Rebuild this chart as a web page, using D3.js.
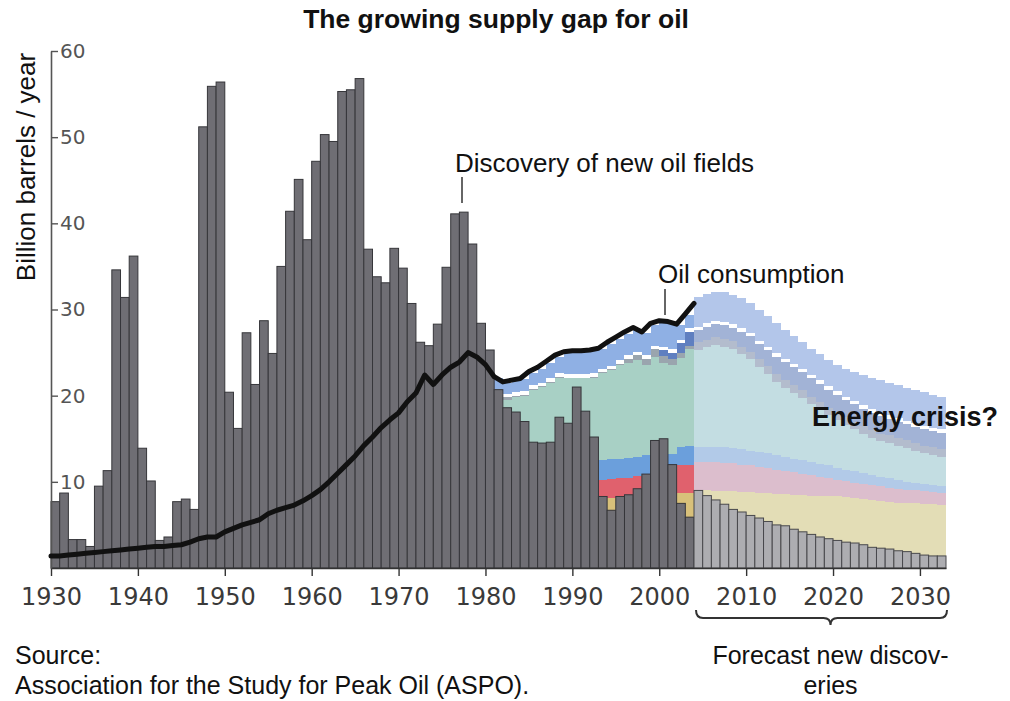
<!DOCTYPE html>
<html>
<head>
<meta charset="utf-8">
<script src="https://cdn.jsdelivr.net/npm/d3@7"></script>
<style>
  body { margin: 0; background: #fff; }
  svg { display: block; }
  text { font-family: "Liberation Sans", Arial, sans-serif; fill: #111; }
  .tick text { font-family: "DejaVu Sans", sans-serif; }
</style>
</head>
<body>
<svg id="chart" width="1010" height="701"></svg>
<script>
// discoveries of new oil fields, 1930-2003 (history) and 2004-2032 (forecast)
const discoveryStart = 1930;
const discoveries = [
  7.7, 8.7, 3.3, 3.3, 2.5, 9.5, 11.3, 34.6, 31.4, 36.2,
  13.9, 10.1, 3.2, 3.6, 7.7, 8.0, 6.8, 51.2, 55.9, 56.4,
  20.4, 16.2, 27.3, 21.3, 28.7, 24.9, 35.0, 41.4, 45.1, 38.1,
  47.2, 50.3, 49.5, 55.3, 55.5, 56.8, 37.0, 33.8, 33.1, 37.1,
  34.8, 30.7, 26.2, 25.8, 28.3, 34.9, 41.1, 41.3, 37.6, 28.4,
  25.3, 20.7, 18.6, 18.1, 17.0, 14.6, 14.5, 14.6, 17.5, 16.8,
  21.0, 18.2, 15.2, 8.3, 6.7, 8.3, 8.5, 9.2, 10.9, 14.8,
  15.0, 12.0, 7.5, 5.9
];
const forecastStart = 2004;
const forecastDiscoveries = [
  9.0, 8.4, 7.9, 7.4, 6.8, 6.5, 6.1, 5.8, 5.4, 5.0,
  4.9, 4.5, 4.2, 3.9, 3.6, 3.4, 3.2, 3.0, 2.9, 2.7,
  2.4, 2.3, 2.2, 2.0, 1.9, 1.7, 1.5, 1.4, 1.4
];

// oil consumption 1930-2004
const consumption = [
  1.4, 1.4, 1.5, 1.6, 1.7, 1.8, 1.9, 2.0, 2.1, 2.2,
  2.3, 2.4, 2.5, 2.5, 2.6, 2.7, 3.0, 3.4, 3.6, 3.6,
  4.2, 4.6, 5.0, 5.3, 5.6, 6.3, 6.7, 7.0, 7.3, 7.8,
  8.4, 9.1, 10.0, 11.0, 12.0, 13.0, 14.2, 15.2, 16.3, 17.2,
  18.0, 19.3, 20.3, 22.4, 21.3, 22.4, 23.3, 23.9, 25.0, 24.5,
  23.6, 22.2, 21.6, 21.8, 22.0, 22.8, 23.3, 24.0, 24.7, 25.1,
  25.2, 25.2, 25.3, 25.5, 26.2, 26.8, 27.4, 27.9, 27.4, 28.4,
  28.7, 28.6, 28.3, 29.5, 30.7
];

// production by source, 1981-2032: top of each stacked band (cumulative)
const bandStart = 1981;
const tanTop = [
  0, 0, 0, 0, 0, 0, 0, 0, 0, 0, 0, 0,
  8.0, 8.1, 8.2, 8.3, 8.4, 8.5, 8.6, 8.6, 8.6, 8.7, 8.7,
  9.0, 9.0, 8.9, 8.9, 8.9, 8.8, 8.8, 8.7, 8.7, 8.6, 8.6, 8.5, 8.5, 8.4, 8.4,
  8.3, 8.3, 8.2, 8.1, 8.0, 7.9, 7.8, 7.7, 7.6, 7.6, 7.5, 7.4, 7.4, 7.3
];
const redTop = [
  0, 0, 0, 0, 0, 0, 0, 0, 0, 0, 0, 0,
  10.2, 10.3, 10.4, 10.5, 10.7, 10.9, 11.0, 11.2, 11.4, 11.9, 12.0,
  12.3, 12.3, 12.3, 12.2, 12.2, 12.0, 11.9, 11.7, 11.6, 11.4, 11.3, 11.1, 10.9, 10.8,
  10.6, 10.4, 10.2, 10.1, 9.9, 9.8, 9.6, 9.5, 9.3, 9.2, 9.1, 9.0, 8.9, 8.8, 8.7
];
const blueTop = [
  0, 0, 0, 0, 0, 0, 0, 0, 0, 0, 0, 0,
  12.5, 12.6, 12.7, 12.8, 12.9, 13.1, 13.0, 13.0, 13.2, 14.1, 14.2,
  14.1, 14.1, 14.1, 14.0, 13.9, 13.8, 13.6, 13.5, 13.3, 13.1, 12.9, 12.7, 12.5, 12.3,
  12.1, 11.9, 11.6, 11.4, 11.2, 11.0, 10.8, 10.6, 10.4, 10.2, 10.0, 9.9, 9.7, 9.6, 9.5
];
const tealTop = [
  19.8, 19.5, 19.9, 20.0, 20.7, 21.0, 21.5, 22.1, 22.0, 22.0, 22.0, 22.1,
  22.6, 23.0, 23.6, 23.8, 24.1, 23.6, 24.5, 23.8, 23.6, 24.4, 25.4,
  25.3, 25.6, 25.9, 25.7, 25.4, 24.8, 24.2, 23.3, 22.5, 21.6, 20.9, 20.3, 19.7, 19.0,
  18.4, 17.7, 17.2, 16.6, 16.1, 15.6, 15.1, 14.7, 14.5, 14.2, 13.9, 13.6, 13.3, 13.1, 12.9
];
const grayTop = [
  20.1, 19.8, 20.0, 20.1, 20.8, 21.1, 21.6, 22.2, 22.1, 22.1, 22.1, 22.2,
  22.7, 23.1, 23.7, 24.3, 24.7, 24.3, 25.4, 24.6, 24.3, 25.0, 25.8,
  26.2, 26.5, 26.8, 26.6, 26.3, 25.7, 25.1, 24.2, 23.4, 22.5, 21.8, 21.2, 20.6, 19.9,
  19.3, 18.6, 18.1, 17.5, 17.0, 16.5, 16.0, 15.6, 15.4, 15.1, 14.8, 14.5, 14.2, 14.0, 13.8
];
const slateTop = [
  20.1, 19.8, 20.0, 20.1, 20.8, 21.1, 21.6, 22.2, 22.1, 22.1, 22.1, 22.2,
  22.7, 23.1, 23.7, 24.3, 24.7, 24.3, 25.4, 25.3, 25.0, 26.1, 27.4,
  27.6, 28.0, 28.3, 28.2, 27.9, 27.4, 26.9, 26.0, 25.3, 24.5, 23.9, 23.3, 22.7, 22.0,
  21.4, 20.7, 20.1, 19.5, 19.0, 18.5, 18.0, 17.6, 17.3, 17.0, 16.7, 16.4, 16.1, 15.9, 15.7
];
const whiteTop = [
  20.5, 20.2, 20.4, 20.5, 21.2, 21.5, 22.0, 22.6, 22.5, 22.5, 22.5, 22.6,
  23.1, 23.5, 24.1, 24.7, 25.1, 24.7, 25.8, 25.7, 25.4, 26.5, 27.8,
  28.0, 28.4, 28.7, 28.6, 28.3, 27.8, 27.3, 26.4, 25.7, 24.9, 24.3, 23.7, 23.1, 22.4,
  21.8, 21.1, 20.5, 19.9, 19.4, 18.9, 18.4, 18.0, 17.7, 17.4, 17.1, 16.8, 16.5, 16.3, 16.1
];
const supplyTop = [
  22.0, 21.5, 21.7, 21.9, 22.6, 23.1, 23.8, 24.5, 25.0, 25.1, 25.1, 25.2,
  25.4, 26.0, 26.6, 27.2, 27.7, 27.3, 28.2, 28.6, 28.4, 28.2, 29.4,
  31.4, 31.8, 32.0, 32.0, 31.7, 31.3, 30.7, 30.0, 29.3, 28.4, 27.6, 26.9, 26.2, 25.4,
  24.8, 24.1, 23.6, 23.1, 22.7, 22.4, 22.1, 21.8, 21.5, 21.2, 20.9, 20.6, 20.4, 20.1, 19.9
];

const yTicks = [10, 20, 30, 40, 50, 60];
const xTicks = [1930, 1940, 1950, 1960, 1970, 1980, 1990, 2000, 2010, 2020, 2030];

const svg = d3.select("#chart");

const x = d3.scaleLinear().domain([1930, 2033]).range([51, 946]);
const y = d3.scaleLinear().domain([0, 60]).range([568, 51]);

// colours: [history, forecast] for each band, bottom to top
const bandColors = [
  ["#d8c07a", "#e3ddb6"],
  ["#e0616d", "#dcbecd"],
  ["#6b9fdc", "#b2cae8"],
  ["#a8d0c5", "#c3dde2"],
  ["#9aa5ae", "#b3bccd"],
  ["#5f7fc0", "#a2b3d6"],
  ["#ffffff", "#ffffff"],
  ["#8fb0e4", "#b3c6ea"]
];
const bounds = [tanTop.map(() => 0), tanTop, redTop, blueTop, tealTop, grayTop, slateTop, whiteTop, supplyTop];

const area = d3.area()
    .curve(d3.curveStepAfter)
    .x(d => x(d.yr))
    .y0(d => y(d.lo))
    .y1(d => y(d.hi));

const bandsG = svg.append("g").attr("shape-rendering", "crispEdges");
const segments = [[bandStart, forecastStart, 0], [forecastStart, 2033, 1]];

for (let i = 1; i < bounds.length; i++) {
  segments.forEach(([from, to, c]) => {
    let pts = [];
    for (let yr = from; yr < to; yr++) {
      let k = yr - bandStart;
      pts.push({yr: yr, lo: bounds[i - 1][k], hi: bounds[i][k]});
    }
    let last = pts[pts.length - 1];
    pts.push({yr: to, lo: last.lo, hi: last.hi});
    bandsG.append("path")
        .datum(pts)
        .attr("d", area)
        .attr("fill", bandColors[i - 1][c]);
  });
}

// bars
const barsG = svg.append("g");
const barData = discoveries.map((v, i) => ({yr: discoveryStart + i, v: v, f: false}))
    .concat(forecastDiscoveries.map((v, i) => ({yr: forecastStart + i, v: v, f: true})));

barsG.selectAll("rect")
    .data(barData)
    .enter()
    .append("rect")
    .attr("x", d => x(d.yr))
    .attr("width", d => x(d.yr + 1) - x(d.yr))
    .attr("y", d => y(d.v))
    .attr("height", d => y(0) - y(d.v))
    .attr("fill", d => d.f ? "#adadb1" : "#6f6e74")
    .attr("stroke", d => d.f ? "#48484c" : "#36363a")
    .attr("stroke-width", 1);

// axes
const xAxis = d3.axisBottom(x)
    .tickValues(xTicks)
    .tickFormat(d3.format("d"))
    .tickSize(8)
    .tickSizeOuter(0)
    .tickPadding(12);

const gx = svg.append("g")
    .attr("transform", "translate(0," + y(0) + ")")
    .call(xAxis);
gx.select(".domain").attr("stroke", "#333").attr("stroke-width", 1.6);
gx.selectAll(".tick line").attr("stroke", "#333").attr("stroke-width", 1.4);
gx.selectAll(".tick text")
    .attr("font-size", 24)
    .style("fill", "#3a3a3a");

const yAxis = d3.axisRight(y)
    .tickValues(yTicks)
    .tickSize(7)
    .tickSizeOuter(0)
    .tickPadding(2);

const gy = svg.append("g")
    .attr("transform", "translate(" + x(1930) + ",0)")
    .call(yAxis);
gy.select(".domain").attr("stroke", "#555").attr("stroke-width", 1.6);
gy.selectAll(".tick line").attr("stroke", "#555").attr("stroke-width", 1.4);
gy.selectAll(".tick text")
    .attr("font-size", 20)
    .style("fill", "#555");

// consumption line
const line = d3.line()
    .x((d, i) => x(discoveryStart + i))
    .y(d => y(d));

svg.append("path")
    .datum(consumption)
    .attr("d", line)
    .attr("fill", "none")
    .attr("stroke", "#111")
    .attr("stroke-width", 5)
    .attr("stroke-linejoin", "round")
    .attr("stroke-linecap", "round");

// labels
svg.append("text")
    .attr("x", 496).attr("y", 28)
    .attr("text-anchor", "middle")
    .attr("font-size", 26.5)
    .attr("font-weight", "bold")
    .text("The growing supply gap for oil");

svg.append("text")
    .attr("transform", "translate(35,167) rotate(-90)")
    .attr("text-anchor", "middle")
    .attr("font-size", 26)
    .text("Billion barrels / year");

svg.append("text")
    .attr("x", 455).attr("y", 172)
    .attr("font-size", 26)
    .text("Discovery of new oil fields");
svg.append("line")
    .attr("x1", 462).attr("x2", 462)
    .attr("y1", 177).attr("y2", 203)
    .attr("stroke", "#333").attr("stroke-width", 1.5);

svg.append("text")
    .attr("x", 658).attr("y", 283)
    .attr("font-size", 26)
    .text("Oil consumption");
svg.append("line")
    .attr("x1", 665).attr("x2", 665)
    .attr("y1", 289).attr("y2", 315)
    .attr("stroke", "#333").attr("stroke-width", 1.5);

svg.append("text")
    .attr("x", 812).attr("y", 426)
    .attr("font-size", 27)
    .attr("font-weight", "bold")
    .text("Energy crisis?");

// brace under the forecast years
const bx0 = x(forecastStart) + 2, bx1 = x(2033) + 1, bm = (bx0 + bx1) / 2 + 9;
const brace = d3.path();
brace.moveTo(bx0, 610);
brace.quadraticCurveTo(bx0, 618, bx0 + 7, 618);
brace.lineTo(bm - 7, 618);
brace.quadraticCurveTo(bm, 618, bm, 625);
brace.quadraticCurveTo(bm, 618, bm + 7, 618);
brace.lineTo(bx1 - 7, 618);
brace.quadraticCurveTo(bx1, 618, bx1, 610);
svg.append("path")
    .attr("d", brace.toString())
    .attr("fill", "none")
    .attr("stroke", "#333")
    .attr("stroke-width", 2);

svg.append("text")
    .attr("x", bm).attr("y", 664)
    .attr("text-anchor", "middle")
    .attr("font-size", 25)
    .text("Forecast new discov-");
svg.append("text")
    .attr("x", bm).attr("y", 694)
    .attr("text-anchor", "middle")
    .attr("font-size", 25)
    .text("eries");

svg.append("text")
    .attr("x", 15).attr("y", 664)
    .attr("font-size", 25)
    .text("Source:");
svg.append("text")
    .attr("x", 15).attr("y", 694)
    .attr("font-size", 25)
    .text("Association for the Study for Peak Oil (ASPO).");
</script>
</body>
</html>
